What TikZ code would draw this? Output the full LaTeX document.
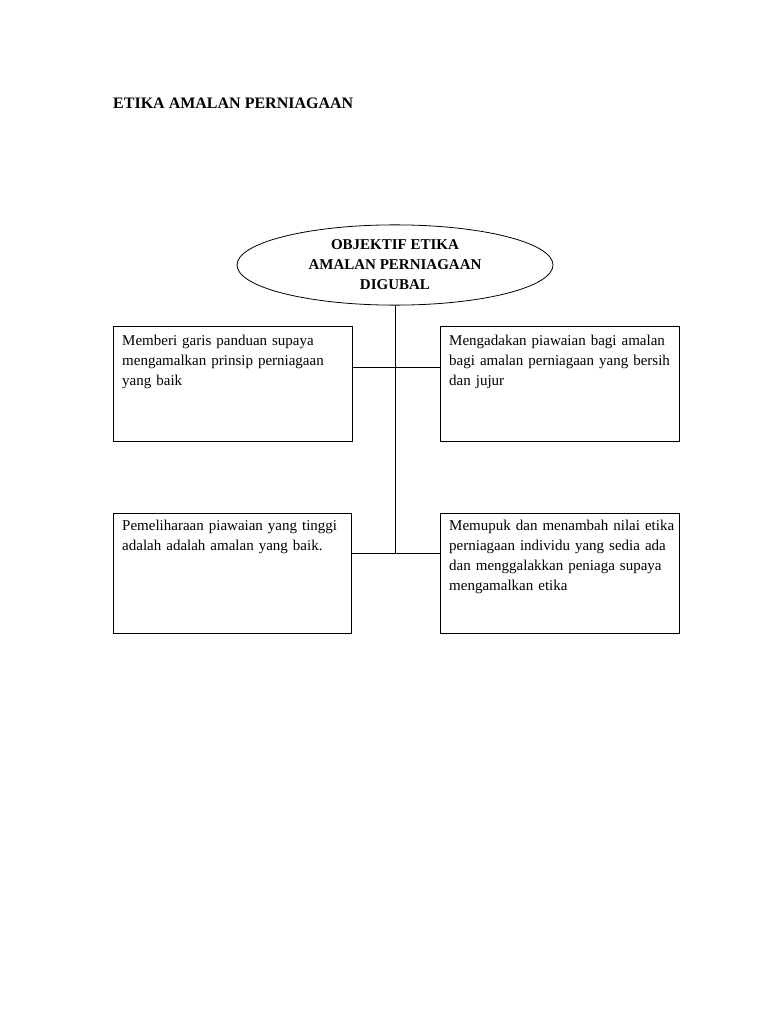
\documentclass[tikz,border=0pt]{standalone}
\usepackage{fontspec}
\setmainfont{Liberation Serif}
\usetikzlibrary{shapes.geometric}
\tikzset{
 box/.style={draw,thick,minimum width=239pt,minimum height=115pt,anchor=north west},
 txt/.style={anchor=north west,text width=225pt,align=left,font=\fontsize{15}{20}\selectfont,inner sep=0pt},
 conn/.style={thick}
}
\begin{document}
\begin{tikzpicture}[x=1pt,y=-1pt]
\useasboundingbox[fill=white] (0,0) rectangle (768,1024);
\node[anchor=west,font=\fontsize{16}{20}\selectfont\bfseries,inner sep=0pt] (title) at (113,103) {ETIKA AMALAN PERNIAGAAN};
\node[draw,thick,ellipse,minimum width=316pt,minimum height=80pt,align=center,font=\fontsize{15}{20}\selectfont\bfseries] (obj) at (395,265) {OBJEKTIF ETIKA\\AMALAN PERNIAGAAN\\DIGUBAL};
\node[box] (b1) at (113,326) {};
\node[box] (b2) at (440,326) {};
\node[box,minimum height=120pt,minimum width=238pt] (b3) at (113,513) {};
\node[box,minimum height=120pt] (b4) at (440,513) {};
\node[txt] at (122,335) {Memberi garis panduan supaya mengamalkan prinsip perniagaan yang baik};
\node[txt] at (449,335) {Mengadakan piawaian bagi amalan bagi amalan perniagaan yang bersih dan jujur};
\node[txt] at (122,520) {Pemeliharaan piawaian yang tinggi adalah adalah amalan yang baik.};
\node[txt] at (449,520) {Memupuk dan menambah nilai etika perniagaan individu yang sedia ada dan menggalakkan peniaga supaya mengamalkan etika};
\coordinate (j1) at (395,367);
\coordinate (j2) at (395,553);
\draw[conn] (obj.south) -- (j2);
\draw[conn] (b1.east |- j1) -- (b2.west |- j1);
\draw[conn] (b3.east |- j2) -- (b4.west |- j2);
\end{tikzpicture}
\end{document}
